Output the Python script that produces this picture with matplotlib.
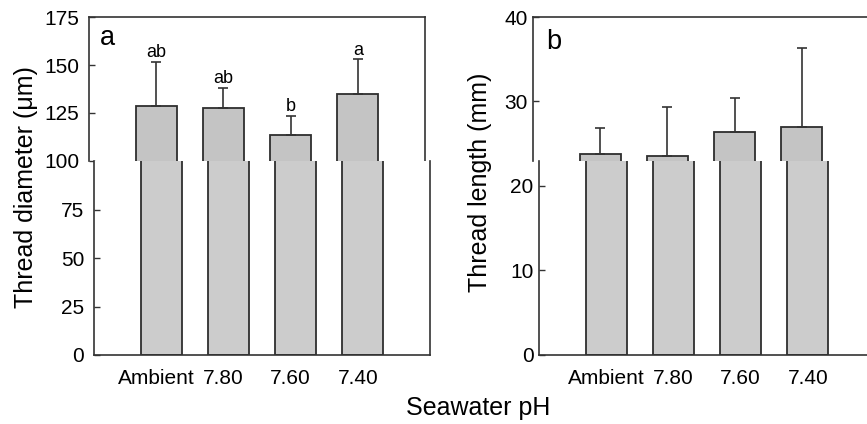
import numpy as np
import matplotlib
matplotlib.use("Agg")
import matplotlib.pyplot as plt
from matplotlib.transforms import ScaledTranslation

plt.rcParams['font.family'] = ['Liberation Sans', 'DejaVu Sans']

groups = ['Ambient', '7.80', '7.60', '7.40']
diam_mean = [128.8, 127.8, 113.5, 135.0]
diam_sd = [22.8, 10.3, 10.1, 18.0]
diam_letters = ['ab', 'ab', 'b', 'a']
len_mean = [23.8, 23.6, 26.4, 27.0]
len_sd = [3.1, 5.8, 4.0, 9.3]

W, H = 867, 424
fig = plt.figure(figsize=(W / 100, H / 100), dpi=100)

def box(l, r, t, b):
    # pixel box -> figure fraction
    return [l / W, (H - b) / H, (r - l) / W, (b - t) / H]

x = np.arange(len(groups))
top_col = '#c4c4c4'
bot_col = '#cccccc'
edge = '#2e2e2e'
bw = 0.61

def panel(l, t, split, b, shift, ylim, brk, yt_top, yt_bot, means, sds, pad, lab_shift):
    ax_t = fig.add_axes(box(l, l + 336, t, split))
    ax_b = fig.add_axes(box(l + shift, l + shift + 336, split, b))
    for ax in (ax_t, ax_b):
        ax.set_xlim(-1, 4)
        ax.tick_params(direction='in', length=4, width=1, colors='#333333',
                       labelcolor='black', labelsize=15, pad=pad)
        for s in ax.spines.values():
            s.set_color('#333333')
            s.set_linewidth(1.2)
    ax_t.bar(x, means, width=bw, color=top_col, edgecolor=edge, linewidth=1.3)
    ax_t.errorbar(x, means, yerr=[np.zeros(len(sds)), sds], fmt='none',
                  ecolor='#333333', elinewidth=1.2, capsize=3.8, capthick=1.2)
    ax_t.set_ylim(brk, ylim)
    ax_t.set_yticks(yt_top)
    ax_t.set_xticks([])
    ax_t.spines['bottom'].set_visible(False)

    ax_b.bar(x, means, width=bw, color=bot_col, edgecolor=edge, linewidth=1.3)
    ax_b.set_ylim(0, brk)
    ax_b.set_yticks(yt_bot)
    ax_b.spines['top'].set_visible(False)
    ax_b.set_xticks(x)
    ax_b.set_xticklabels(groups)
    ax_b.tick_params(axis='x', length=0, pad=10)
    off = ScaledTranslation(lab_shift / 100, 0, fig.dpi_scale_trans)
    for lab in ax_b.get_xticklabels():
        lab.set_transform(lab.get_transform() + off)
    return ax_t, ax_b

a_t, a_b = panel(89, 17, 161, 355, 5, 175, 100, [100, 125, 150, 175],
                 [0, 25, 50, 75], diam_mean, diam_sd, 7, -5)
b_t, b_b = panel(533, 17, 161, 355, 6, 40, 22.95, [30, 40],
                 [0, 10, 20], len_mean, len_sd, 4, 0)

for xi, m, s, lt in zip(x, diam_mean, diam_sd, diam_letters):
    a_t.annotate(lt, (xi, m + s), xytext=(0, 0.5), textcoords='offset points',
                 ha='center', va='bottom', fontsize=13)

fig.text(100 / W, 1 - 38 / H, 'a', fontsize=19.5, ha='left', va='center')
fig.text(546 / W, 1 - 42 / H, 'b', fontsize=19.5, ha='left', va='center')

fig.text(26 / W, 1 - 187 / H, 'Thread diameter (\u03bcm)', rotation=90,
         fontsize=18, ha='center', va='center')
fig.text(480 / W, 1 - 182 / H, 'Thread length (mm)', rotation=90,
         fontsize=18, ha='center', va='center')
fig.text(478 / W, 1 - 408 / H, 'Seawater pH', fontsize=18,
         ha='center', va='center')

fig.savefig('out.png', dpi=100)
